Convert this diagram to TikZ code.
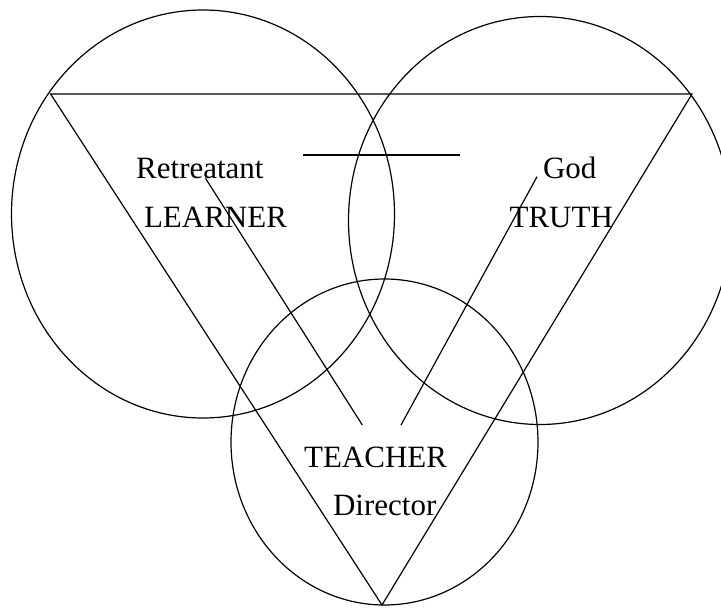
\documentclass[tikz,border=0pt]{standalone}
\usepackage{fontspec}
\setmainfont{Liberation Serif}
\begin{document}
\begin{tikzpicture}[x=1pt,y=-1pt,line width=1.2pt,
  lbl/.style={anchor=base west,inner sep=0pt,font=\fontsize{31}{37}\selectfont}]
\useasboundingbox (0,0) rectangle (721,608);
\clip (0,0) rectangle (721,608);
% circles
\draw (203,214) ellipse [x radius=191.5, y radius=204];
\draw (540,220.5) ellipse [x radius=191.5, y radius=204];
\draw (384.5,442) ellipse [x radius=153.5, y radius=163];
% triangle
\coordinate (tl) at (50.6,94);
\coordinate (tr) at (692,94);
\coordinate (bt) at (382,605);
\draw (tl) -- (tr) -- (bt) -- cycle;
% short bar
\coordinate (b1) at (303.4,155);
\coordinate (b2) at (459.8,155);
\draw (b1) -- (b2);
% labels
\node[lbl] (ret) at (135.6,178) {Retreatant};
\node[lbl] (lea) at (143.4,227) {LEARNER};
\node[lbl] (god) at (542.5,178) {God};
\node[lbl] (tru) at (509,227) {TRUTH};
\node[lbl] (tea) at (303.5,467) {TEACHER};
\node[lbl] (dir) at (332.5,515) {Director};
% connectors
\coordinate (r1) at (205.5,178.3);
\coordinate (r2) at (362.3,425);
\coordinate (g1) at (537,176.7);
\coordinate (g2) at (401,425);
\draw (r1) -- (r2);
\draw (g1) -- (g2);
\end{tikzpicture}
\end{document}
